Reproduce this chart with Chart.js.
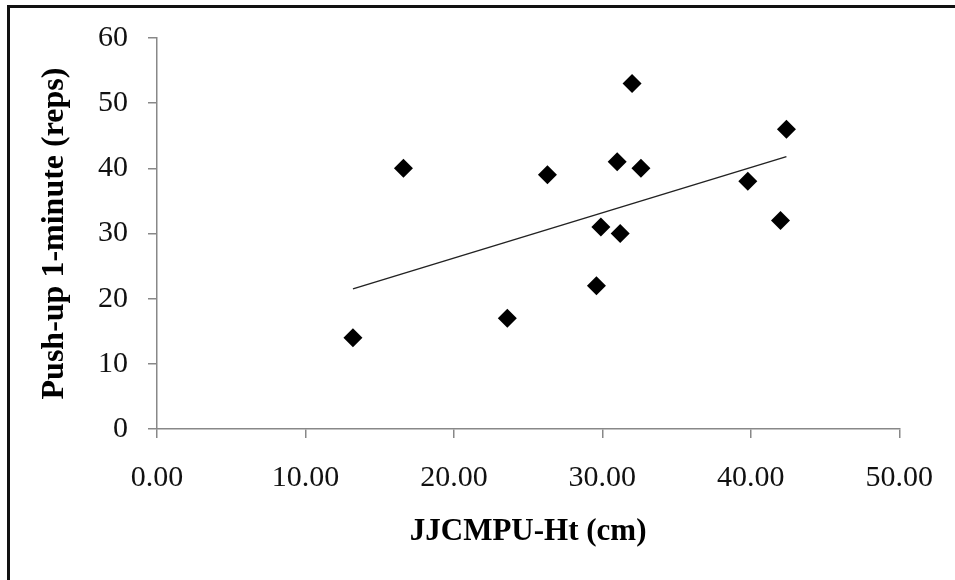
<!DOCTYPE html>
<html>
<head>
<meta charset="utf-8">
<script src="https://cdn.jsdelivr.net/npm/chart.js@4"></script>
<style>
  html, body { margin: 0; padding: 0; background: #fff; }
  #wrap { width: 955px; height: 580px; position: relative; }
</style>
</head>
<body>
<div id="wrap"><canvas id="c" width="955" height="580"></canvas></div>
<script>
// Data
const jjcmpuHt = [13.2, 16.6, 23.6, 26.3, 29.6, 29.9, 31.0, 31.2, 32.0, 32.6, 39.8, 42.0, 42.4];
const pushUps  = [14, 40, 17, 39, 22, 31, 41, 30, 53, 40, 38, 32, 46];
const trendX = [13.2, 42.4];
const trendY = [21.5, 41.8];
const xTitle = 'JJCMPU-Ht (cm)';
const yTitle = 'Push-up 1-minute (reps)';

const points = jjcmpuHt.map((x, i) => ({ x: x, y: pushUps[i] }));
const trend = trendX.map((x, i) => ({ x: x, y: trendY[i] }));

const frame = {
  id: 'frame',
  beforeDraw(chart) {
    const ctx = chart.ctx;
    ctx.save();
    ctx.fillStyle = '#fff';
    ctx.fillRect(0, 0, chart.width, chart.height);
    ctx.restore();
  },
  afterDraw(chart) {
    const ctx = chart.ctx;
    ctx.save();
    ctx.fillStyle = '#111';
    ctx.fillRect(7, 5, chart.width - 7, 3);
    ctx.fillRect(7, 5, 3, chart.height - 5);
    ctx.restore();
  }
};

const serif = 'Liberation Serif';

new Chart(document.getElementById('c'), {
  type: 'scatter',
  data: {
    datasets: [
      {
        label: 'data',
        data: points,
        pointStyle: 'rectRot',
        pointRadius: 9.5,
        pointHoverRadius: 9.5,
        backgroundColor: '#000',
        borderColor: '#000',
        borderWidth: 0,
        order: 1
      },
      {
        type: 'line',
        label: 'trend',
        data: trend,
        borderColor: '#222',
        borderWidth: 1.5,
        pointRadius: 0,
        fill: false,
        tension: 0,
        order: 2
      }
    ]
  },
  options: {
    responsive: false,
    animation: false,
    devicePixelRatio: 1,
    layout: { padding: { left: 0, right: 52, top: 38, bottom: 0 } },
    plugins: { legend: { display: false }, tooltip: { enabled: false } },
    scales: {
      x: {
        type: 'linear',
        min: 0, max: 50,
        afterFit(s) { s.height = 151; },
        ticks: {
          stepSize: 10,
          padding: 22,
          color: '#111',
          font: { family: serif, size: 30 },
          callback: v => Number(v).toFixed(2),
          maxRotation: 0
        },
        grid: { drawOnChartArea: false, drawTicks: true, tickLength: 9, color: '#888', lineWidth: 1.5 },
        border: { display: true, color: '#888', width: 1.5 },
        title: {
          display: true,
          text: xTitle,
          color: '#000',
          font: { family: serif, size: 31, weight: 'bold' },
          padding: { top: 0, bottom: 29 }
        }
      },
      y: {
        type: 'linear',
        min: 0, max: 60,
        afterFit(s) { s.width = 157; },
        ticks: {
          stepSize: 10,
          padding: 20,
          color: '#111',
          font: { family: serif, size: 30 }
        },
        grid: { drawOnChartArea: false, drawTicks: true, tickLength: 9, color: '#888', lineWidth: 1.5 },
        border: { display: true, color: '#888', width: 1.5 },
        title: {
          display: true,
          text: yTitle,
          color: '#000',
          font: { family: serif, size: 32, weight: 'bold' },
          padding: { top: 36, bottom: 0 }
        }
      }
    }
  },
  plugins: [frame]
});
</script>
</body>
</html>
